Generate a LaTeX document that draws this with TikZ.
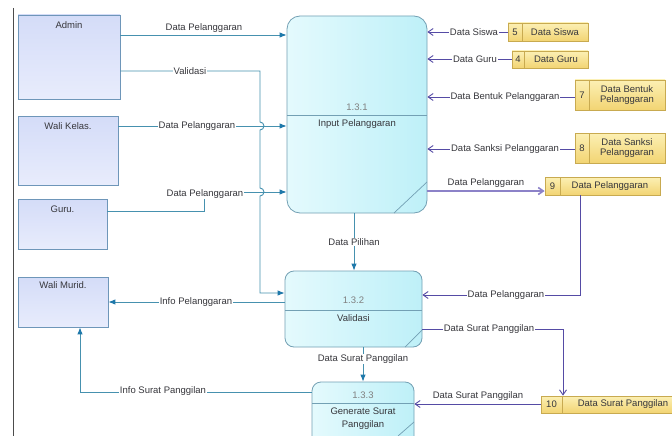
\documentclass[tikz,border=0pt]{standalone}
\usepackage{fontspec}
\setmainfont{Liberation Sans}
\usetikzlibrary{arrows.meta,fit,calc}
\definecolor{tealc}{RGB}{70,145,175}
\definecolor{tealarr}{RGB}{30,120,170}
\definecolor{purc}{RGB}{85,75,165}
\definecolor{entb}{RGB}{110,150,185}
\definecolor{procb}{RGB}{115,160,180}
\definecolor{dsb}{RGB}{200,170,80}
\definecolor{txt}{RGB}{55,55,60}
\tikzset{
  lbl/.style={font=\fontsize{9.5}{11}\selectfont, text=txt, inner sep=1pt},
  lblw/.style={lbl, fill=white},
  ent/.style={draw=entb, line width=0.8pt, inner sep=0pt, top color={rgb,255:red,212;green,220;blue,248}, bottom color={rgb,255:red,232;green,236;blue,252}},
  proc/.style={draw=procb, line width=0.8pt, inner sep=0pt, rounded corners=13pt, left color={rgb,255:red,228;green,250;blue,253}, right color={rgb,255:red,190;green,240;blue,248}},
  procs/.style={proc, rounded corners=9pt},
  procline/.style={draw=procb, line width=0.7pt},
  dsbox/.style={draw=dsb, line width=0.8pt, inner sep=0pt, top color={rgb,255:red,252;green,240;blue,180}, bottom color={rgb,255:red,242;green,212;blue,115}},
  dsline/.style={draw=dsb, line width=0.7pt},
  tarrow/.style={draw=tealc, line width=0.9pt, -{Latex[length=7pt,width=5.5pt,color=tealarr]}},
  tline/.style={draw=tealc, line width=0.9pt},
  parrow/.style={draw=purc, line width=0.9pt, -{Straight Barb[length=5pt,width=7pt]}},
}
\newcommand\dstore[8]{%
  \node[dsbox, fit={(#2,#3) (#4,#5)}] (#1) {};
  \draw[dsline] (#6,#3) -- (#6,#5);
  \node[lbl] (#1n) at ($(#2,#3)!0.5!(#6,#5)$) {#7};
  \node[lbl, align=center, font=\fontsize{9.5}{10.5}\selectfont] (#1t) at ($(#6,#3)!0.5!(#4,#5)$) {#8};
}
\begin{document}
\begin{tikzpicture}[x=1pt,y=-1pt]
\useasboundingbox (0,0) rectangle (672,436);
\clip (0,0) rectangle (672,436);
\fill[white] (0,0) rectangle (672,436);
\draw[gray!60!black, line width=1pt] (13,8) -- (13,436);

% external entities
\node[ent, fit={(18,15) (120,99)}] (adm) {};
\node[lbl] (admt) at (69,25) {Admin};
\node[ent, fit={(18,116) (118,185)}] (wk) {};
\node[lbl] (wkt) at (68,126) {Wali Kelas.};
\node[ent, fit={(18,199) (107,249)}] (guru) {};
\node[lbl] (gurut) at (62.5,209) {Guru.};
\node[ent, fit={(18,277) (108,327)}] (wm) {};
\node[lbl] (wmt) at (63,285) {Wali Murid.};

% processes
\node[proc, fit={(287,16) (427,213)}] (p1) {};
\draw[procline] (287,115) -- (427,115);
\draw[procline] (427,182) -- (394,213);
\node[lbl, text=gray] (p1n) at (357,107) {1.3.1};
\node[lbl] (p1t) at (357,124) {Input Pelanggaran};

\node[procs, fit={(285,271) (422,347)}] (p2) {};
\draw[procline] (285,310) -- (422,310);
\draw[procline] (422,330) -- (405,347);
\node[lbl, text=gray] (p2n) at (353.5,300) {1.3.2};
\node[lbl] (p2t) at (353.5,318) {Validasi};

\node[procs, fit={(312,382) (414,450)}] (p3) {};
\draw[procline] (312,403) -- (414,403);
\draw[procline] (414,422) -- (398,436);
\node[lbl, text=gray] (p3n) at (363,395) {1.3.3};
\node[lbl, align=center, font=\fontsize{9.5}{13}\selectfont] (p3t) at (363,419) {Generate Surat\\Panggilan};

% data stores
\dstore{ds5}{508}{23}{588}{41}{522}{5}{Data Siswa}
\dstore{ds4}{512}{51}{588}{68}{524}{4}{Data Guru}
\dstore{ds7}{575}{80}{665}{110}{589}{7}{Data Bentuk\\Pelanggaran}
\dstore{ds8}{575}{133}{665}{163}{589}{8}{Data Sanksi\\Pelanggaran}
\dstore{ds9}{545}{177}{660}{195}{560}{9}{Data Pelanggaran}
\dstore{ds10}{541}{396}{684}{413}{562}{10}{Data Surat Panggilan}

% teal flows
\draw[tarrow] (adm.east |- 0,35) -- (p1.west |- 0,35);
\node[lbl] (l1) at (204,28) {Data Pelanggaran};

\draw[tarrow] (wk.east |- 0,126) -- (p1.west |- 0,126);
\node[lblw] (l2) at (197,126) {Data Pelanggaran};

\draw[tarrow] (guru.east |- 0,211) -- (204,211) -- (204,192) -- (p1.west |- 0,192);
\node[lblw] (l3) at (205,194) {Data Pelanggaran};

\draw[tarrow] (adm.east |- 0,71) -- (260,71) -- (260,122)
  arc[start angle=90, end angle=-90, radius=4pt] -- (260,188)
  arc[start angle=90, end angle=-90, radius=4pt] -- (260,293) -- (p2.west |- 0,293);
\node[lblw] (l4) at (190,71) {Validasi};

\draw[tarrow] (p1.south -| 354,0) -- (p2.north -| 354,0);
\node[lblw] (l5) at (354,242) {Data Pilihan};

\draw[tarrow] (p2.west |- 0,302) -- (wm.east |- 0,302);
\node[lblw] (l6) at (196,302) {Info Pelanggaran};

\draw[tarrow] (p2.south -| 363,0) -- (p3.north -| 363,0);
\node[lblw] (l7) at (363,359) {Data Surat Panggilan};

\draw[tarrow] (p3.west |- 0,392) -- (80,392) -- (wm.south -| 80,0);
\node[lblw] (l8) at (163,391) {Info Surat Panggilan};

% purple flows
\draw[parrow] (ds5.west |- 0,32) -- (p1.east |- 0,32);
\node[lblw] (l9) at (474,32) {Data Siswa};
\draw[parrow] (ds4.west |- 0,59) -- (p1.east |- 0,59);
\node[lblw] (l10) at (475,59) {Data Guru};
\draw[parrow] (ds7.west |- 0,97) -- (p1.east |- 0,97);
\node[lblw] (l11) at (505,97) {Data Bentuk Pelanggaran};
\draw[parrow] (ds8.west |- 0,149) -- (p1.east |- 0,149);
\node[lblw] (l12) at (505,149) {Data Sanksi Pelanggaran};
\draw[parrow, draw={rgb,255:red,140;green,130;blue,200}, line width=1.6pt] (p1.east |- 0,191) -- (ds9.west |- 0,191);
\node[lbl] (l13) at (486,183) {Data Pelanggaran};
\draw[parrow] (ds9.south -| 580,0) -- (580,295) -- (p2.east |- 0,295);
\node[lblw] (l14) at (506,295) {Data Pelanggaran};
\draw[parrow] (p2.east |- 0,329) -- (563,329) -- (ds10.north -| 563,0);
\node[lblw] (l15) at (489,329) {Data Surat Panggilan};
\draw[parrow] (ds10.west |- 0,404) -- (p3.east |- 0,404);
\node[lbl] (l16) at (478,396) {Data Surat Panggilan};
\end{tikzpicture}
\end{document}
